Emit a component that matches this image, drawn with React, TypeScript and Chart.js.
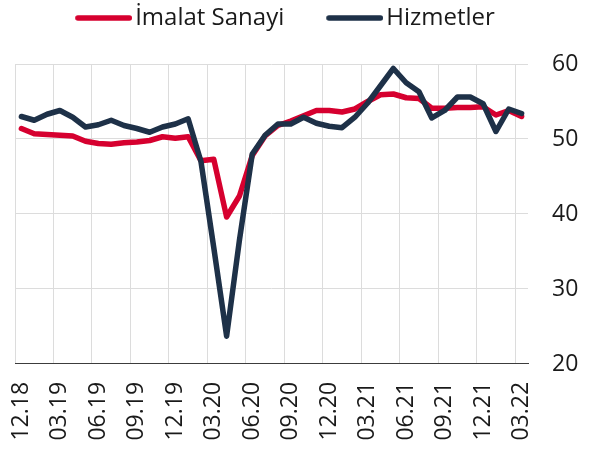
import React, { useEffect, useRef } from 'react';
import { Chart, registerables } from 'chart.js';

Chart.register(...registerables);

const months = [
  '12.18', '01.19', '02.19', '03.19', '04.19', '05.19', '06.19', '07.19', '08.19', '09.19',
  '10.19', '11.19', '12.19', '01.20', '02.20', '03.20', '04.20', '05.20', '06.20', '07.20',
  '08.20', '09.20', '10.20', '11.20', '12.20', '01.21', '02.21', '03.21', '04.21', '05.21',
  '06.21', '07.21', '08.21', '09.21', '10.21', '11.21', '12.21', '01.22', '02.22', '03.22',
];

const imalatSanayi = [
  51.4, 50.7, 50.6, 50.5, 50.4, 49.7, 49.4, 49.3, 49.5, 49.6,
  49.8, 50.3, 50.1, 50.3, 47.1, 47.3, 39.6, 42.4, 47.8, 50.4,
  51.8, 52.4, 53.1, 53.8, 53.8, 53.6, 54.0, 55.0, 55.9, 56.0,
  55.5, 55.4, 54.1, 54.1, 54.2, 54.2, 54.3, 53.2, 53.8, 53.0,
];

const hizmetler = [
  53.0, 52.5, 53.3, 53.8, 52.9, 51.6, 51.9, 52.5, 51.8, 51.4,
  50.9, 51.6, 52.0, 52.7, 47.0, 35.5, 23.7, 36.5, 48.0, 50.5,
  52.0, 52.0, 52.9, 52.1, 51.7, 51.5, 52.9, 54.8, 57.1, 59.4,
  57.5, 56.3, 52.8, 53.8, 55.6, 55.6, 54.7, 51.0, 54.0, 53.4,
];

const seriesNames = ['İmalat Sanayi', 'Hizmetler'];
const seriesColors = ['#D6002F', '#1E3148'];
const yMin = 20;
const yMax = 60;
const yStep = 10;
const labelEvery = 3;

const FONT = 'Open Sans';
const TEXT = '#1a1a1a';
const GRID = '#dcdcdc';

function legendLine(color: string): HTMLCanvasElement {
  const c = document.createElement('canvas');
  c.width = 66;
  c.height = 8;
  const g = c.getContext('2d')!;
  g.strokeStyle = color;
  g.lineWidth = 5.5;
  g.lineCap = 'round';
  g.beginPath();
  g.moveTo(11.75, 4);
  g.lineTo(63.25, 4);
  g.stroke();
  return c;
}

export default function App() {
  const ref = useRef<HTMLCanvasElement>(null);

  useEffect(() => {
    document.body.style.margin = '0';
    Chart.defaults.font.family = FONT;
    const chart = new Chart(ref.current!, {
      type: 'line',
      data: {
        labels: months,
        datasets: [
          {
            label: seriesNames[0],
            data: imalatSanayi,
            borderColor: seriesColors[0],
            backgroundColor: seriesColors[0],
            borderWidth: 5.5,
            pointRadius: 0,
            pointHoverRadius: 0,
            tension: 0,
            borderJoinStyle: 'round',
            borderCapStyle: 'round',
            pointStyle: legendLine(seriesColors[0]) as any,
            order: 1,
          },
          {
            label: seriesNames[1],
            data: hizmetler,
            borderColor: seriesColors[1],
            backgroundColor: seriesColors[1],
            borderWidth: 5.5,
            pointRadius: 0,
            pointHoverRadius: 0,
            tension: 0,
            borderJoinStyle: 'round',
            borderCapStyle: 'round',
            pointStyle: legendLine(seriesColors[1]) as any,
            order: 0,
          },
        ],
      },
      options: {
        animation: false,
        responsive: false,
        events: [],
        layout: { padding: { top: -36, left: -10, right: 14, bottom: -8.6 } },
        plugins: {
          legend: {
            position: 'top',
            labels: {
              usePointStyle: true,
              pointStyleWidth: 48,
              padding: 42,
              color: TEXT,
              font: { family: FONT, size: 24 },
              sort: (a: any, b: any) => a.datasetIndex - b.datasetIndex,
            },
          },
          title: {
            display: true,
            text: '',
            weight: 500,
            padding: { top: 0, bottom: 12 },
            font: { size: 10 },
          } as any,
          tooltip: { enabled: false },
        },
        scales: {
          x: {
            type: 'category',
            offset: true,
            grid: {
              offset: true,
              drawTicks: false,
              lineWidth: 1,
              color: (c: any) =>
                typeof c.index === 'number' && c.index % labelEvery === 0 ? GRID : 'rgba(0,0,0,0)',
            },
            border: { display: true, color: '#3c3c3c', width: 1 },
            ticks: {
              autoSkip: false,
              minRotation: 90,
              maxRotation: 90,
              padding: 18,
              color: TEXT,
              font: { family: FONT, size: 23 },
              callback: (_v: any, i: number) => (i % labelEvery === 0 ? months[i] : ''),
            },
            afterFit: (s: any) => {
              s.paddingLeft = 0;
              s.paddingRight = 0;
            },
          },
          y: {
            position: 'right',
            min: yMin,
            max: yMax,
            grid: {
              drawTicks: false,
              lineWidth: 1,
              color: (c: any) => (c.tick && c.tick.value === yMin ? 'rgba(0,0,0,0)' : GRID),
            },
            border: { display: false },
            ticks: {
              stepSize: yStep,
              padding: 24,
              color: TEXT,
              font: { family: FONT, size: 23 },
            },
            afterFit: (s: any) => {
              s.width = 52;
            },
          },
          spacer: {
            type: 'linear',
            position: 'left',
            display: true,
            grid: { display: false },
            border: { display: false },
            ticks: { display: false },
            afterFit: (s: any) => {
              s.width = 25;
            },
          },
        },
      },
    });
    return () => chart.destroy();
  }, []);

  return (
    <div style={{ width: 594, height: 450 }}>
      <canvas ref={ref} width={594} height={450} style={{ display: 'block' }} />
    </div>
  );
}
